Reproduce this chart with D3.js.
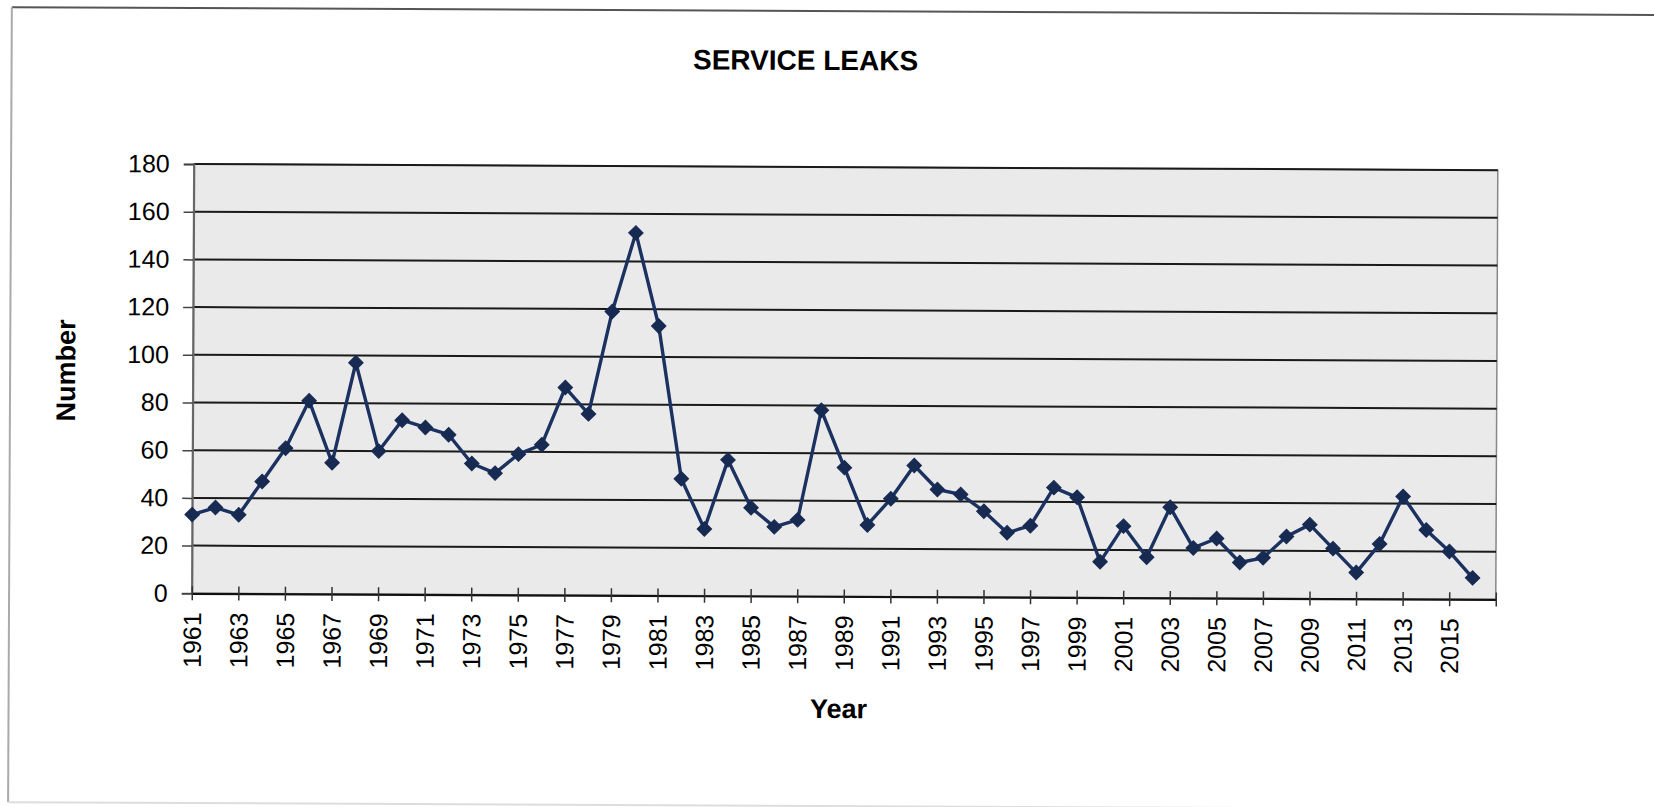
<!DOCTYPE html>
<html>
<head>
<meta charset="utf-8">
<script src="https://cdn.jsdelivr.net/npm/d3@7"></script>
<style>
  html, body { margin: 0; padding: 0; background: #ffffff; }
  svg { display: block; }
  text { font-family: "Liberation Sans", Arial, Helvetica, sans-serif; fill: #000; }
</style>
</head>
<body>
<svg id="chart" width="1654" height="807"></svg>
<script>
// ---- data ----
const title = "SERVICE LEAKS";
const xTitle = "Year";
const yTitle = "Number";
const years = [1961,1962,1963,1964,1965,1966,1967,1968,1969,1970,
               1971,1972,1973,1974,1975,1976,1977,1978,1979,1980,
               1981,1982,1983,1984,1985,1986,1987,1988,1989,1990,
               1991,1992,1993,1994,1995,1996,1997,1998,1999,2000,
               2001,2002,2003,2004,2005,2006,2007,2008,2009,2010,
               2011,2012,2013,2014,2015,2016];
const leaks = [33,36,33,47,61,81,55,97,60,73,
               70,67,55,51,59,63,87,76,119,152,
               113,49,28,57,37,29,32,78,54,30,
               41,55,45,43,36,27,30,46,42,15,
               30,17,38,21,25,15,17,26,31,21,
               11,23,43,29,20,9];
const xTickYears = [1961,1963,1965,1967,1969,1971,1973,1975,1977,1979,
                    1981,1983,1985,1987,1989,1991,1993,1995,1997,1999,
                    2001,2003,2005,2007,2009,2011,2013,2015,2017];
const xTickLabels = ["1961","1963","1965","1967","1969","1971","1973","1975","1977","1979",
                     "1981","1983","1985","1987","1989","1991","1993","1995","1997","1999",
                     "2001","2003","2005","2007","2009","2011","2013","2015",""];
const yTicks = [0,20,40,60,80,100,120,140,160,180];

// ---- layout ----
const svg = d3.select("#chart");
const root = svg.append("g").attr("transform", "rotate(0.27,827,400)");

const L = 192.7, R = 1496.7, T = 167, B = 596.3;
const x = d3.scaleLinear().domain([1961, 2017]).range([L, R]);
const y = d3.scaleLinear().domain([0, 180]).range([B, T]);

// outer frame (scanned page border)
root.append("line").attr("x1", 10).attr("y1", 11).attr("x2", 1700).attr("y2", 11)
  .attr("stroke", "#555").attr("stroke-width", 2);
root.append("line").attr("x1", 10).attr("y1", 11).attr("x2", 10).attr("y2", 806)
  .attr("stroke", "#aaa").attr("stroke-width", 2);
root.append("line").attr("x1", 10).attr("y1", 806).attr("x2", 1700).attr("y2", 806)
  .attr("stroke", "#ddd").attr("stroke-width", 2);

// plot area
root.append("rect").attr("x", L).attr("y", T).attr("width", R - L).attr("height", B - T)
  .attr("fill", "#eaeaea").attr("stroke", "#888").attr("stroke-width", 1.5);

// gridlines
root.append("g").selectAll("line").data(yTicks.filter(d => d > 0)).join("line")
  .attr("x1", L).attr("x2", R).attr("y1", d => y(d)).attr("y2", d => y(d))
  .attr("stroke", "#1a1a1a").attr("stroke-width", 2);

// y axis
const yAxis = root.append("g").attr("transform", `translate(${L},0)`)
  .call(d3.axisLeft(y).tickValues(yTicks).tickSize(10).tickPadding(14).tickFormat(d3.format("d")));
yAxis.select(".domain").attr("stroke", "#666").attr("stroke-width", 2);
yAxis.selectAll(".tick line").attr("stroke", "#444").attr("stroke-width", 1.5);
yAxis.selectAll("text").attr("font-size", 25).style("font-family", '"Liberation Sans", Arial, sans-serif');

// x axis (cross ticks)
const xAxis = root.append("g").attr("transform", `translate(0,${B})`)
  .call(d3.axisBottom(x).tickValues(xTickYears).tickSizeInner(7).tickSizeOuter(0)
        .tickFormat((d, i) => xTickLabels[i]));
xAxis.select(".domain").attr("stroke", "#111").attr("stroke-width", 2.2);
xAxis.selectAll(".tick line").attr("y1", -7).attr("stroke", "#333").attr("stroke-width", 1.5);
xAxis.selectAll("text")
  .attr("font-size", 25)
  .style("font-family", '"Liberation Sans", Arial, sans-serif')
  .attr("text-anchor", "end")
  .attr("transform", "translate(0,19) rotate(-90)")
  .attr("x", 0).attr("y", 0).attr("dy", "0.35em");

// series line
const pts = years.map((yr, i) => [yr, leaks[i]]);
root.append("path").datum(pts)
  .attr("fill", "none").attr("stroke", "#1b3160").attr("stroke-width", 3.4)
  .attr("stroke-linejoin", "round")
  .attr("d", d3.line().x(d => x(d[0])).y(d => y(d[1])));

// diamond markers
const diamond = d3.symbol().type(d3.symbolSquare).size(105);
root.append("g").selectAll("path").data(pts).join("path")
  .attr("d", diamond)
  .attr("transform", d => `translate(${x(d[0])},${y(d[1])}) rotate(45)`)
  .attr("fill", "#172a52").attr("stroke", "#172a52").attr("stroke-width", 1);

// titles
root.append("text").attr("x", 804).attr("y", 70).attr("text-anchor", "middle")
  .attr("font-size", 28).attr("font-weight", "bold").text(title);
root.append("text").attr("x", 840).attr("y", 718).attr("text-anchor", "middle")
  .attr("font-size", 27).attr("font-weight", "bold").text(xTitle);
root.append("text").attr("transform", "translate(75,374) rotate(-90)").attr("text-anchor", "middle")
  .attr("font-size", 27).attr("font-weight", "bold").text(yTitle);
</script>
</body>
</html>
